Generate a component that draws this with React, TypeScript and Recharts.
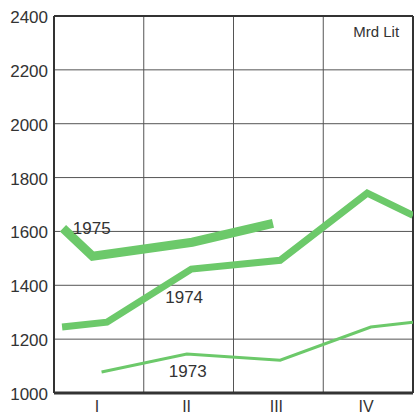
import React from 'react';
import { LineChart, Line, XAxis, YAxis, ReferenceLine, ReferenceDot } from 'recharts';

// x = position in quarters (0..4), y = Mrd Lit
const s1973X = [0.53, 1.48, 2.52, 3.53, 4.0];
const s1973Y = [1078, 1145, 1122, 1245, 1263];
const s1974X = [0.09, 0.59, 1.53, 2.52, 3.49, 4.0];
const s1974Y = [1245, 1263, 1460, 1493, 1742, 1660];
const s1975X = [0.1, 0.43, 1.54, 2.44];
const s1975Y = [1612, 1508, 1560, 1630];

const quarterTicks = [0.5, 1.5, 2.5, 3.5];
const quarterLabels = ['I', 'II', 'III', 'IV'];
const yTicks = [1000, 1200, 1400, 1600, 1800, 2000, 2200, 2400];
const quarterBounds = [1, 2, 3];
const unitLabel = 'Mrd  Lit';

const zip = (xs: number[], ys: number[]) => xs.map((x, i) => ({ x, y: ys[i] }));
const d1973 = zip(s1973X, s1973Y);
const d1974 = zip(s1974X, s1974Y);
const d1975 = zip(s1975X, s1975Y);

const GREEN = '#6cc96a';
const INK = '#333333';
const FONT = '"Liberation Sans", Arial, sans-serif';

const seriesLabel = (value: string, size = 17) => ({
  value,
  position: 'center' as const,
  fill: INK,
  fontSize: size,
  fontFamily: FONT,
  style: { whiteSpace: 'pre' },
});

export default function App() {
  return (
    <div style={{ position: 'absolute', left: 0, top: 0, background: '#fff' }}>
      <LineChart
        width={414}
        height={415}
        margin={{ top: 16, right: 1, bottom: 0, left: 0 }}
      >
        <XAxis
          type="number"
          dataKey="x"
          domain={[0, 4]}
          ticks={quarterTicks}
          tickFormatter={(v: number) => quarterLabels[quarterTicks.indexOf(v)]}
          tickLine={false}
          axisLine={{ stroke: INK, strokeWidth: 3 }}
          tick={{ fill: INK, fontSize: 16, fontFamily: FONT, dx: -2 }}
          height={22}
          allowDataOverflow
        />
        <YAxis
          type="number"
          domain={[1000, 2400]}
          ticks={yTicks}
          tickLine={false}
          tickMargin={0}
          axisLine={{ stroke: INK, strokeWidth: 2 }}
          tick={{ fill: INK, fontSize: 17, fontFamily: FONT, dy: 1 }}
          width={54}
          allowDataOverflow
        />
        {yTicks.slice(1, -1).map((v) => (
          <ReferenceLine key={'h' + v} y={v} stroke="#555" strokeWidth={1} />
        ))}
        {quarterBounds.map((v) => (
          <ReferenceLine key={'v' + v} x={v} stroke="#555" strokeWidth={1} />
        ))}
        <ReferenceLine y={2400} stroke={INK} strokeWidth={2} />
        <ReferenceLine x={4} stroke={INK} strokeWidth={2} />
        <Line
          data={d1973}
          dataKey="y"
          type="linear"
          stroke={GREEN}
          strokeWidth={3}
          dot={false}
          isAnimationActive={false}
        />
        <Line
          data={d1974}
          dataKey="y"
          type="linear"
          stroke={GREEN}
          strokeWidth={7}
          dot={false}
          isAnimationActive={false}
        />
        <Line
          data={d1975}
          dataKey="y"
          type="linear"
          stroke={GREEN}
          strokeWidth={9}
          dot={false}
          isAnimationActive={false}
        />
        <ReferenceDot x={0.42} y={1614} r={0} fill="none" stroke="none" label={seriesLabel('1975')} />
        <ReferenceDot x={1.45} y={1356} r={0} fill="none" stroke="none" label={seriesLabel('1974')} />
        <ReferenceDot x={1.49} y={1080} r={0} fill="none" stroke="none" label={seriesLabel('1973')} />
        <ReferenceDot x={3.59} y={2340} r={0} fill="none" stroke="none" label={seriesLabel(unitLabel, 15)} />
      </LineChart>
    </div>
  );
}
